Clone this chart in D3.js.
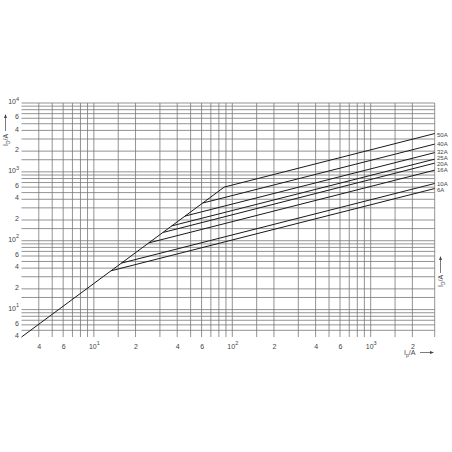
<!DOCTYPE html>
<html><head><meta charset="utf-8">
<script src="https://cdn.jsdelivr.net/npm/d3@7"></script>
<style>
body{margin:0;background:#fff}
svg{display:block}
text{font-family:"Liberation Sans",Arial,sans-serif;fill:#444}
</style>
</head><body>
<svg width="452" height="452"></svg>
<script>
// let-through current ID vs prospective current Ip, per rated current
const ratings=['6A','10A','16A','20A','25A','32A','40A','50A'];
const kinkIp=[13.3,15.8,24.9,31.7,36.4,45.5,61,87.5];
const kinkId=[36.6,47.3,93,132,164,228,352,601];
const endIp=[2900,2900,2900,2900,2900,2900,2900,2900];
const endId=[573,678,1059,1340,1531,1903,2530,3600];
// unlimited peak line
const diagIp=[3,87.5];
const diagId=[4,601];

const xTicks=[4,6,10,20,40,60,100,200,400,600,1000,2000];
const yTicks=[4,6,10,20,40,60,100,200,400,600,1000,2000,4000,6000,10000];
const gridSteps=[1,1.5,2,3,4,5,6,7,8,9];

const svg=d3.select('svg');
let x=d3.scaleLog().domain([3,2900]).range([21.5,434.7]);
let y=d3.scaleLog().domain([4,10000]).range([337,103]);

// label nudges so the crowded rating labels don't collide
const labelShift={'6A':0.7,'10A':-0.3,'16A':-0.3,'20A':0.6,'25A':-1.4,'32A':-1,'40A':-0.5,'50A':1};

let gridVals=(dom)=>{
  let out=[];
  for(let k=0;k<=4;k++){
    gridSteps.forEach(s=>{
      let v=+(s*Math.pow(10,k)).toPrecision(6);
      if(v>dom[0] && v<=dom[1]) out.push(v);
    });
  }
  return out;
}

let drawGrid=()=>{
  let g=svg.append('g').attr('stroke','#777').attr('stroke-width',0.8);
  g.selectAll('.vx').data(gridVals(x.domain()))
    .enter().append('line')
    .attr('x1',d=>x(d)).attr('x2',d=>x(d))
    .attr('y1',y(10000)).attr('y2',y(4));
  g.selectAll('.hy').data(gridVals(y.domain()))
    .enter().append('line')
    .attr('x1',x(3)).attr('x2',x(2900))
    .attr('y1',d=>y(d)).attr('y2',d=>y(d));
  // right border
  g.append('line').attr('x1',x(2900)).attr('x2',x(2900)).attr('y1',y(10000)).attr('y2',y(4));
}

let fmtTick=(sel)=>{
  sel.each(function(d){
    let t=d3.select(this).text('');
    let e=Math.log10(d);
    if(Math.abs(e-Math.round(e))<1e-9){
      t.append('tspan').text('10');
      t.append('tspan').attr('dy',-3.5).attr('font-size',5.5).text(Math.round(e));
    } else {
      t.text(Math.round(d/Math.pow(10,Math.floor(e))));
    }
  });
}

let drawAxes=()=>{
  let xa=svg.append('g').attr('transform','translate(0,'+y(4)+')')
    .call(d3.axisBottom(x).tickValues(xTicks).tickSize(0).tickPadding(7).tickFormat(d=>d));
  xa.select('.domain').remove();
  xa.selectAll('text').attr('font-size',7).attr('fill','#444').call(fmtTick);

  let ya=svg.append('g').attr('transform','translate(19,0)')
    .call(d3.axisLeft(y).tickValues(yTicks).tickSize(0).tickPadding(0).tickFormat(d=>d));
  ya.select('.domain').remove();
  ya.selectAll('text').attr('font-size',7).attr('fill','#444').attr('dy','0.1em').call(fmtTick);
}

let drawCurves=()=>{
  let line=d3.line().x(d=>x(d[0])).y(d=>y(d[1]));
  svg.append('path')
    .datum(diagIp.map((v,i)=>[v,diagId[i]]))
    .attr('d',line).attr('fill','none').attr('stroke','#1a1a1a').attr('stroke-width',1);
  svg.selectAll('.fuse').data(ratings).enter().append('path')
    .attr('class','fuse')
    .attr('d',(r,i)=>line([[kinkIp[i],kinkId[i]],[endIp[i],endId[i]]]))
    .attr('fill','none').attr('stroke','#1a1a1a').attr('stroke-width',1);
  svg.selectAll('.lab').data(ratings).enter().append('text')
    .attr('x',437)
    .attr('y',(r,i)=>y(endId[i])+2.5+labelShift[r])
    .attr('font-size',6).attr('fill','#333')
    .text(r=>r);
}

let drawTitles=()=>{
  // x title
  let xt=svg.append('text').attr('x',404).attr('y',355).attr('font-size',7).attr('fill','#444');
  xt.append('tspan').text('I');
  xt.append('tspan').attr('font-size',5).attr('dy',1.5).text('p');
  xt.append('tspan').attr('dy',-1.5).text('/A');
  svg.append('line').attr('x1',420).attr('x2',433).attr('y1',352.5).attr('y2',352.5).attr('stroke','#444').attr('stroke-width',0.7);
  svg.append('path').attr('d','M434,352.5 L430,351 L430,354 Z').attr('fill','#444');

  let yTitle=(cx,cy,ax,ay0,ay1)=>{
    let t=svg.append('text').attr('transform','translate('+cx+','+cy+') rotate(-90)')
      .attr('text-anchor','middle').attr('font-size',7).attr('fill','#444');
    t.append('tspan').text('I');
    t.append('tspan').attr('font-size',5).attr('dy',1.5).text('D');
    t.append('tspan').attr('dy',-1.5).text('/A');
    svg.append('line').attr('x1',ax).attr('x2',ax).attr('y1',ay0).attr('y2',ay1).attr('stroke','#444').attr('stroke-width',0.7);
    svg.append('path').attr('d','M'+ax+','+(ay1-1)+' L'+(ax-1.5)+','+(ay1+3)+' L'+(ax+1.5)+','+(ay1+3)+' Z').attr('fill','#444');
  }
  yTitle(8,140,5.5,131,115);
  yTitle(443,281,440.5,273,257);
}

drawGrid();
drawAxes();
drawCurves();
drawTitles();
</script>
</body></html>
